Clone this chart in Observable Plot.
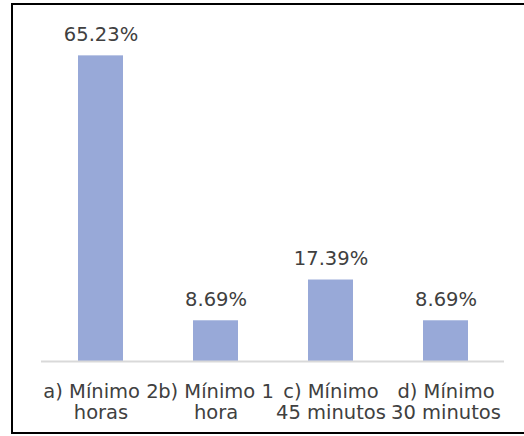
<!DOCTYPE html>
<html>
<head>
<meta charset="utf-8">
<script src="https://cdn.jsdelivr.net/npm/d3@7"></script>
<script src="https://cdn.jsdelivr.net/npm/@observablehq/plot@0.6"></script>
<style>
  html, body { margin: 0; padding: 0; background: #fff; }
  #wrap { position: relative; width: 524px; height: 436px; overflow: hidden; }
  #wrap svg { position: absolute; left: 0; top: 0; }
  #box {
    position: absolute; left: 11px; top: 3px; width: 520px; height: 431px;
    border: 2px solid #000; box-sizing: border-box; pointer-events: none;
  }
</style>
</head>
<body>
<div id="wrap"><div id="box"></div></div>
<script>
// Minimum time options and the share of responses for each
const categories = ["a) Mínimo 2 horas", "b) Mínimo 1 hora", "c) Mínimo 45 minutos", "d) Mínimo 30 minutos"];
const tickLabels = ["a) Mínimo 2\nhoras", "b) Mínimo 1\nhora", "c) Mínimo\n45 minutos", "d) Mínimo\n30 minutos"];
const percents = [65.23, 8.69, 17.39, 8.69];

const data = categories.map((c, i) => ({category: c, label: tickLabels[i], value: percents[i]}));
const labelOf = new Map(data.map(d => [d.category, d.label]));

const font = "Verdana, 'DejaVu Sans', sans-serif";

const chart = Plot.plot({
  width: 524,
  height: 436,
  marginLeft: 41,
  marginRight: 20,
  marginTop: 33,
  marginBottom: 75,
  style: {fontFamily: font, fontSize: "19.5px", color: "#404040", background: "transparent"},
  x: {domain: categories, paddingInner: 0.61, paddingOuter: 0.305, label: null},
  y: {domain: [0, 70], axis: null},
  marks: [
    Plot.barY(data, {x: "category", y: "value", fill: "#98a9d8"}),
    Plot.ruleY([0], {stroke: "#d9d9d9", strokeWidth: 2}),
    Plot.text(data, {
      x: "category", y: "value",
      text: d => d.value.toFixed(2) + "%",
      dy: -21, fontSize: 19.5, fill: "#404040"
    }),
    Plot.axisX({
      tickSize: 0, tickPadding: 22, fontSize: 19.5, lineHeight: 1.06,
      tickFormat: c => labelOf.get(c), fill: "#404040", label: null
    })
  ]
});

document.getElementById("wrap").insertBefore(chart, document.getElementById("box"));
</script>
</body>
</html>
